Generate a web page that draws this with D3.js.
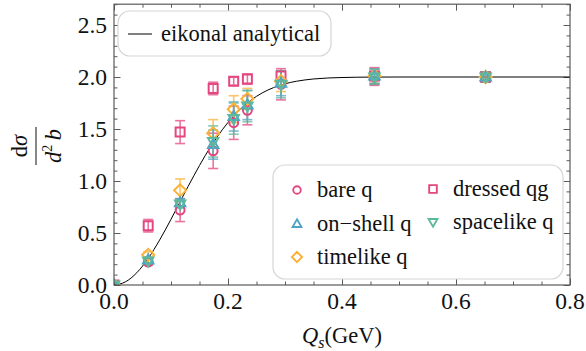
<!DOCTYPE html>
<html>
<head>
<meta charset="utf-8">
<script src="https://cdn.jsdelivr.net/npm/d3@7"></script>
<style>
  html, body { margin: 0; padding: 0; background: #fff; }
</style>
</head>
<body>
<svg id="chart" width="586" height="351"></svg>
<script>
// Saturation scale Qs (GeV) shared by every series
const qs = [0, 0.06, 0.116, 0.174, 0.21, 0.234, 0.293, 0.457, 0.652];

// dσ/d²b and its uncertainty, per quark description
const bareQ        = [0, 0.22, 0.72, 1.29, 1.56, 1.68, 1.93, 2.00, 2.00];
const bareQErr     = [0, 0.03, 0.11, 0.17, 0.16, 0.14, 0.15, 0.08, 0.05];
const onShellQ     = [0, 0.24, 0.79, 1.35, 1.62, 1.73, 1.94, 2.01, 2.00];
const onShellQErr  = [0, 0.03, 0.04, 0.14, 0.14, 0.14, 0.12, 0.07, 0.05];
const timelikeQ    = [0, 0.29, 0.91, 1.46, 1.69, 1.79, 1.96, 2.01, 2.00];
const timelikeQErr = [0, 0.03, 0.11, 0.13, 0.13, 0.10, 0.10, 0.07, 0.05];
const dressedQG    = [0, 0.57, 1.47, 1.89, 1.96, 1.98, 2.01, 2.01, 2.00];
const dressedQGErr = [0, 0.06, 0.11, 0.06, 0.04, 0.05, 0.05, 0.08, 0.05];
const spacelikeQ   = [0, 0.23, 0.78, 1.38, 1.60, 1.72, 1.93, 2.00, 2.00];
const spacelikeQErr= [0, 0.03, 0.04, 0.15, 0.15, 0.15, 0.13, 0.07, 0.05];

// Eikonal analytical curve, sampled
const eikX = [0, 0.02, 0.04, 0.06, 0.08, 0.10, 0.12, 0.14, 0.16, 0.18, 0.20, 0.22, 0.24, 0.26, 0.28, 0.30, 0.32, 0.35, 0.40, 0.45, 0.50, 0.60, 0.70, 0.80];
const eikY = [0, 0.030, 0.118, 0.256, 0.432, 0.632, 0.843, 1.050, 1.244, 1.416, 1.563, 1.682, 1.776, 1.847, 1.898, 1.935, 1.959, 1.981, 1.995, 1.999, 2.0, 2.0, 2.0, 2.0];

// Axis ticks
const xMajor = [0, 0.2, 0.4, 0.6, 0.8];
const yMajor = [0, 0.5, 1.0, 1.5, 2.0, 2.5];

const series = [
  { name: "bare q",      vals: bareQ,      err: bareQErr,      color: "#e4467f", shape: "circle" },
  { name: "dressed qg",  vals: dressedQG,  err: dressedQGErr,  color: "#e4467f", shape: "square" },
  { name: "timelike q",  vals: timelikeQ,  err: timelikeQErr,  color: "#fbb136", shape: "diamond" },
  { name: "on\u2212shell q", vals: onShellQ, err: onShellQErr, color: "#4fa4c6", shape: "up" },
  { name: "spacelike q", vals: spacelikeQ, err: spacelikeQErr, color: "#5cb99b", shape: "down" }
];

const FONT = "Liberation Serif, DejaVu Serif, serif";
const TICK_FS = 23.5, LABEL_FS = 22.5;
const svg = d3.select("#chart").style("font-family", FONT);
const L = 114, R = 570, T = 4.2, B = 285;
const x = d3.scaleLinear().domain([0, 0.8]).range([L, R]);
const y = d3.scaleLinear().domain([0, 2.7]).range([B, T]);
const frameColor = "#5a5a5a";

// Clip plot contents to the frame
svg.append("clipPath").attr("id", "plotclip")
  .append("rect").attr("x", L).attr("y", T).attr("width", R - L).attr("height", B - T);

// Axes: ticks inward on all four sides
const xMinor = d3.range(0, 0.8001, 0.05);
const yMinor = d3.range(0, 2.7001, 0.1);
function tickAxis(axisFn, scale, vals, size) {
  return axisFn(scale).tickValues(vals).tickSizeInner(-size).tickSizeOuter(0).tickFormat("");
}
const gx = svg.append("g").attr("transform", `translate(0,${B})`);
gx.call(tickAxis(d3.axisBottom, x, xMinor, 3.5));
gx.call(g => g.append("g").call(tickAxis(d3.axisBottom, x, xMajor, 6.5)));
const gxt = svg.append("g").attr("transform", `translate(0,${T})`);
gxt.call(tickAxis(d3.axisTop, x, xMinor, 3.5));
gxt.call(g => g.append("g").call(tickAxis(d3.axisTop, x, xMajor, 6.5)));
const gy = svg.append("g").attr("transform", `translate(${L},0)`);
gy.call(tickAxis(d3.axisLeft, y, yMinor, 3.5));
gy.call(g => g.append("g").call(tickAxis(d3.axisLeft, y, yMajor, 6.5)));
const gyr = svg.append("g").attr("transform", `translate(${R},0)`);
gyr.call(tickAxis(d3.axisRight, y, yMinor, 3.5));
gyr.call(g => g.append("g").call(tickAxis(d3.axisRight, y, yMajor, 6.5)));
svg.selectAll(".domain").remove();
svg.selectAll(".tick line").attr("stroke", frameColor).attr("stroke-width", 1);
// axis groups carry their own font settings; drop them so the svg font applies
svg.selectAll("g").attr("font-family", null).attr("font-size", null);

// Tick labels
svg.append("g").selectAll("text").data(xMajor).join("text")
  .attr("x", d => x(d)).attr("y", 309)
  .attr("text-anchor", "middle").attr("font-size", TICK_FS).attr("fill", "#111")
  .text(d3.format(".1f"));
svg.append("g").selectAll("text").data(yMajor).join("text")
  .attr("x", 107).attr("y", d => y(d) + 8)
  .attr("text-anchor", "end").attr("font-size", TICK_FS).attr("fill", "#111")
  .text(d3.format(".1f"));

// Axis titles
const xt = svg.append("text").attr("x", 342).attr("y", 343)
  .attr("text-anchor", "middle").attr("font-size", LABEL_FS).attr("fill", "#111");
xt.append("tspan").attr("font-style", "italic").text("Q");
xt.append("tspan").attr("font-style", "italic").attr("font-size", 16).attr("dy", 5).text("s");
xt.append("tspan").attr("dy", -5).text("(GeV)");

const yl = svg.append("g").attr("transform", "translate(36,146) rotate(-90)");
const num = yl.append("text").attr("x", 0).attr("y", -9).attr("text-anchor", "middle")
  .attr("font-size", LABEL_FS).attr("fill", "#111");
num.append("tspan").text("d");
num.append("tspan").attr("font-style", "italic").text("\u03c3");
yl.append("line").attr("x1", -19).attr("x2", 19).attr("y1", 0).attr("y2", 0)
  .attr("stroke", "#111").attr("stroke-width", 1);
const den = yl.append("text").attr("x", 0).attr("y", 25).attr("text-anchor", "middle")
  .attr("font-size", LABEL_FS).attr("fill", "#111");
den.append("tspan").attr("font-style", "italic").text("d");
den.append("tspan").attr("font-size", 14).attr("dy", -9).text("2");
den.append("tspan").attr("dy", 9).attr("font-style", "italic").text("\u2009b");

// Plot layer
const plot = svg.append("g").attr("clip-path", "url(#plotclip)");

// Analytical curve
const eik = eikX.map((v, i) => [v, eikY[i]]);
plot.append("path").datum(eik)
  .attr("fill", "none").attr("stroke", "#000").attr("stroke-width", 1)
  .attr("d", d3.line().x(d => x(d[0])).y(d => y(d[1])).curve(d3.curveMonotoneX));

// Marker outlines
function markerPath(shape) {
  switch (shape) {
    case "circle": return d3.symbol(d3.symbolCircle, 62)();
    case "square": return "M-4.5,-4.5H4.5V4.5H-4.5Z";
    case "diamond": return "M0,-6L6,0L0,6L-6,0Z";
    case "up": return "M0,-5.5L5.2,3.5H-5.2Z";
    case "down": return "M0,5.5L5.2,-3.5H-5.2Z";
  }
}

// Error bars
series.forEach(s => {
  const pts = qs.map((q, i) => ({ q, v: s.vals[i], e: s.err[i] })).filter(p => p.e > 0);
  const g = plot.append("g").attr("stroke", s.color).attr("stroke-width", 1.6).attr("opacity", 0.75);
  g.selectAll("line.v").data(pts).join("line")
    .attr("x1", p => x(p.q)).attr("x2", p => x(p.q))
    .attr("y1", p => y(p.v - p.e)).attr("y2", p => y(p.v + p.e));
  g.selectAll("line.top").data(pts).join("line")
    .attr("x1", p => x(p.q) - 5).attr("x2", p => x(p.q) + 5)
    .attr("y1", p => y(p.v + p.e)).attr("y2", p => y(p.v + p.e));
  g.selectAll("line.bot").data(pts).join("line")
    .attr("x1", p => x(p.q) - 5).attr("x2", p => x(p.q) + 5)
    .attr("y1", p => y(p.v - p.e)).attr("y2", p => y(p.v - p.e));
});
series.forEach(s => {
  const pts = qs.map((q, i) => ({ q, v: s.vals[i] }));
  plot.append("g").selectAll("path").data(pts).join("path")
    .attr("transform", p => `translate(${x(p.q)},${y(p.v)})`)
    .attr("d", markerPath(s.shape))
    .attr("fill", "none")
    .attr("stroke", s.color).attr("stroke-width", 2);
});

// Frame
svg.append("rect").attr("x", L).attr("y", T).attr("width", R - L).attr("height", B - T)
  .attr("fill", "none").attr("stroke", frameColor).attr("stroke-width", 1.2);

// Legend: analytical curve
svg.append("rect").attr("x", 118).attr("y", 11).attr("width", 213).attr("height", 45)
  .attr("rx", 12).attr("fill", "#fff").attr("stroke", "#d6d6d6").attr("stroke-width", 1.2);
svg.append("line").attr("x1", 128).attr("x2", 152).attr("y1", 34).attr("y2", 34)
  .attr("stroke", "#000").attr("stroke-width", 1);
svg.append("text").attr("x", 161).attr("y", 41).attr("font-size", LABEL_FS).attr("fill", "#111")
  .text("eikonal analytical");

// Legend: data series
svg.append("rect").attr("x", 273).attr("y", 165).attr("width", 290).attr("height", 114)
  .attr("rx", 12).attr("fill", "#fff").attr("stroke", "#d6d6d6").attr("stroke-width", 1.2);
const legendPos = {
  "bare q": [297, 190], "on\u2212shell q": [297, 224], "timelike q": [297, 257],
  "dressed qg": [433, 189], "spacelike q": [433, 222]
};
series.forEach(s => {
  const [lx, ly] = legendPos[s.name];
  svg.append("path").attr("transform", `translate(${lx},${ly}) scale(0.85)`)
    .attr("d", markerPath(s.shape)).attr("fill", "none")
    .attr("stroke", s.color).attr("stroke-width", 2.2);
  svg.append("text").attr("x", lx + 20).attr("y", ly + 7)
    .attr("font-size", LABEL_FS).attr("fill", "#111").text(s.name);
});
</script>
</body>
</html>
